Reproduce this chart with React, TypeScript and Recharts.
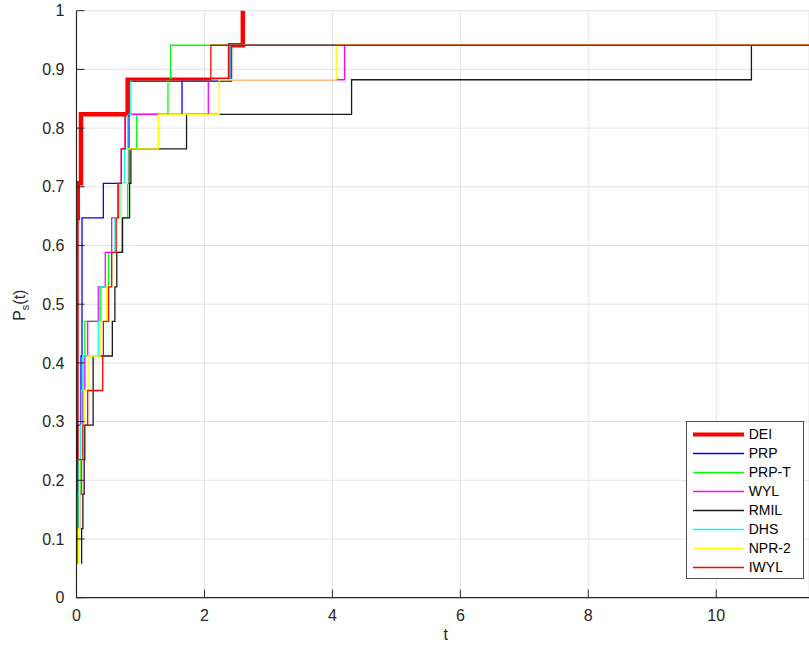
import React from 'react';
import { LineChart, Line, XAxis, YAxis, CartesianGrid, Legend, Label } from 'recharts';

// ---------- axes ----------
const X_MAX = 11.45;
const N_PROBLEMS = 17;
const X_TICKS = [0, 2, 4, 6, 8, 10];
const X_TICK_LABELS = ['0', '2', '4', '6', '8', '10'];
const Y_TICKS = [0, 0.1, 0.2, 0.3, 0.4, 0.5, 0.6, 0.7, 0.8, 0.9, 1];
const Y_TICK_LABELS = ['0', '0.1', '0.2', '0.3', '0.4', '0.5', '0.6', '0.7', '0.8', '0.9', '1'];

// ---------- series: t where the profile reaches k/17 ----------
const DEI_T = [0, 0, 0.02, 0.07, 0.8, 2.4, 2.6];
const DEI_K = [1, 11, 12, 14, 15, 16, 17];

const PRP_T = [0, 0.005, 0.01, 0.07, 0.086, 0.42, 0.82, 1.65, 2.4];
const PRP_K = [1, 3, 5, 7, 11, 12, 14, 15, 16];

const PRPT_T = [0, 0.03, 0.04, 0.06, 0.08, 0.1, 0.13, 0.38, 0.5, 0.71, 0.8, 0.94, 1.43, 1.47];
const PRPT_K = [1, 2, 3, 4, 5, 7, 8, 9, 10, 11, 13, 14, 15, 16];

const WYL_T = [0, 0.02, 0.05, 0.08, 0.1, 0.13, 0.175, 0.34, 0.45, 0.55, 0.65, 0.7, 0.76, 2.06, 4.19];
const WYL_K = [1, 2, 3, 5, 6, 7, 8, 9, 10, 11, 12, 13, 14, 15, 16];

const RMIL_T = [0.07, 0.08, 0.1, 0.12, 0.13, 0.26, 0.56, 0.6, 0.63, 0.72, 0.83, 0.85, 1.72, 4.3, 10.55];
const RMIL_K = [1, 2, 3, 4, 5, 7, 8, 9, 10, 11, 12, 13, 14, 15, 16];

const DHS_T = [0, 0.01, 0.02, 0.04, 0.06, 0.08, 0.1, 0.34, 0.36, 0.55, 0.6, 0.68, 0.75, 0.8, 0.85, 2.4];
const DHS_K = [1, 2, 3, 4, 5, 6, 7, 8, 9, 10, 11, 12, 13, 14, 15, 16];

const NPR2_T = [0, 0.03, 0.05, 0.08, 0.12, 0.18, 0.37, 0.47, 0.55, 0.62, 0.7, 0.8, 1.28, 2.23, 4.06];
const NPR2_K = [1, 2, 4, 5, 6, 7, 8, 9, 10, 11, 12, 13, 14, 15, 16];

const IWYL_T = [0, 0.005, 0.01, 0.1, 0.175, 0.41, 0.42, 0.5, 0.55, 0.62, 0.65, 0.7, 0.76, 0.8, 2.1];
const IWYL_K = [1, 2, 4, 5, 6, 7, 8, 9, 10, 11, 12, 13, 14, 15, 16];

const SERIES_NAMES = ['DEI', 'PRP', 'PRP-T', 'WYL', 'RMIL', 'DHS', 'NPR-2', 'IWYL'];
const SERIES_COLORS = ['#ff0000', '#0000ff', '#00ff00', '#ff00ff', '#1a1a1a', '#00ffff', '#ffff00', '#ff0000'];
const SERIES_WIDTHS = [4.5, 1.3, 1.3, 1.3, 1.3, 1.3, 1.3, 1.3];
const SERIES_T = [DEI_T, PRP_T, PRPT_T, WYL_T, RMIL_T, DHS_T, NPR2_T, IWYL_T];
const SERIES_K = [DEI_K, PRP_K, PRPT_K, WYL_K, RMIL_K, DHS_K, NPR2_K, IWYL_K];
const SERIES_EXTEND = [false, true, true, true, true, true, true, true];

function buildSteps(ts: number[], ks: number[], extend: boolean) {
  const pts = ts.map((t, i) => ({ t, p: ks[i] / N_PROBLEMS }));
  if (extend) pts.push({ t: X_MAX, p: ks[ks.length - 1] / N_PROBLEMS });
  return pts;
}

const SERIES_DATA = SERIES_NAMES.map((_, i) => buildSteps(SERIES_T[i], SERIES_K[i], SERIES_EXTEND[i]));

const FONT = '"Liberation Sans", Arial, Helvetica, sans-serif';
const AXIS_COLOR = '#262626';
const TICK_MARGIN = 12;
const TICK_LEN = 8;

const XTick = (props: any) => {
  const { x, y, payload } = props;
  const axisY = y - TICK_MARGIN;
  const label = X_TICK_LABELS[X_TICKS.indexOf(payload.value)] ?? String(payload.value);
  return (
    <g>
      <line x1={x} x2={x} y1={axisY} y2={axisY - TICK_LEN} stroke={AXIS_COLOR} strokeWidth={1} />
      <text x={x} y={y} dy="0.71em" textAnchor="middle" fill={AXIS_COLOR} fontSize={16} fontFamily={FONT}>
        {label}
      </text>
    </g>
  );
};

const YTick = (props: any) => {
  const { x, y, payload } = props;
  const axisX = x + TICK_MARGIN;
  const idx = Y_TICKS.findIndex((v) => Math.abs(v - payload.value) < 1e-9);
  const label = idx >= 0 ? Y_TICK_LABELS[idx] : String(payload.value);
  return (
    <g>
      <line x1={axisX} x2={axisX + TICK_LEN} y1={y} y2={y} stroke={AXIS_COLOR} strokeWidth={1} />
      <text x={x} y={y} dy="0.355em" textAnchor="end" fill={AXIS_COLOR} fontSize={16} fontFamily={FONT}>
        {label}
      </text>
    </g>
  );
};

const YLabel = (props: any) => {
  const vb = props.viewBox || {};
  const x = (vb.x ?? 0) + 25;
  const y = (vb.y ?? 0) + (vb.height ?? 0) / 2 + 1;
  return (
    <text x={x} y={y} transform={`rotate(-90, ${x}, ${y})`} textAnchor="middle" fill={AXIS_COLOR} fontSize={16} fontFamily={FONT}>
      <tspan>P</tspan>
      <tspan dy={4} fontSize={11}>s</tspan>
      <tspan dy={-4}>(t)</tspan>
    </text>
  );
};

const XLabel = (props: any) => {
  const vb = props.viewBox || {};
  const x = (vb.x ?? 0) + (vb.width ?? 0) / 2 + 3;
  const y = (vb.y ?? 0) + 42;
  return (
    <text x={x} y={y} textAnchor="middle" fill={AXIS_COLOR} fontSize={16} fontFamily={FONT}>
      t
    </text>
  );
};

const LegendBox = () => (
  <div
    style={{
      width: 118,
      height: 158,
      boxSizing: 'border-box',
      border: '1px solid #4d4d4d',
      background: '#ffffff',
      paddingTop: 3,
      fontFamily: FONT,
      fontSize: 14,
      color: '#000',
    }}
  >
    {SERIES_NAMES.map((name, i) => (
      <div key={name} style={{ height: 19, display: 'flex', alignItems: 'center' }}>
        <svg width={57} height={19} style={{ display: 'block' }}>
          <line x1={6} x2={57} y1={9.5} y2={9.5} stroke={SERIES_COLORS[i]} strokeWidth={SERIES_WIDTHS[i] > 2 ? 4 : 1.5} />
        </svg>
        <span style={{ marginLeft: 5, lineHeight: '19px' }}>{name}</span>
      </div>
    ))}
  </div>
);

export default function App() {
  return (
    <div style={{ position: 'absolute', left: 0, top: 0, width: 809, height: 650, overflow: 'hidden' }}>
      <LineChart width={809} height={650} margin={{ top: 10.7, right: 0, left: 0, bottom: 0 }} style={{ fontFamily: FONT }}>
        <CartesianGrid stroke="#e4e4e4" strokeWidth={1} />
        <XAxis
          dataKey="t"
          type="number"
          domain={[0, X_MAX]}
          ticks={X_TICKS}
          height={52.3}
          tickSize={0}
          tickMargin={TICK_MARGIN}
          tickLine={false}
          tick={<XTick />}
          axisLine={{ stroke: AXIS_COLOR, strokeWidth: 1.2 }}
          allowDataOverflow
          interval={0}
        >
          <Label content={<XLabel />} />
        </XAxis>
        <YAxis
          type="number"
          domain={[0, 1]}
          ticks={Y_TICKS}
          width={76.5}
          tickSize={0}
          tickMargin={TICK_MARGIN}
          tickLine={false}
          tick={<YTick />}
          axisLine={{ stroke: AXIS_COLOR, strokeWidth: 1.2 }}
          interval={0}
        >
          <Label content={<YLabel />} />
        </YAxis>
        {SERIES_NAMES.map((name, i) => (
          <Line
            key={name}
            name={name}
            data={SERIES_DATA[i]}
            dataKey="p"
            type="stepAfter"
            stroke={SERIES_COLORS[i]}
            strokeWidth={SERIES_WIDTHS[i]}
            strokeLinejoin="miter"
            strokeLinecap="butt"
            dot={false}
            activeDot={false}
            isAnimationActive={false}
          />
        ))}
        <Legend
          layout="vertical"
          align="center"
          verticalAlign="middle"
          content={<LegendBox />}
          wrapperStyle={{ left: 685.7, top: 421, width: 118, height: 158 }}
        />
      </LineChart>
    </div>
  );
}
